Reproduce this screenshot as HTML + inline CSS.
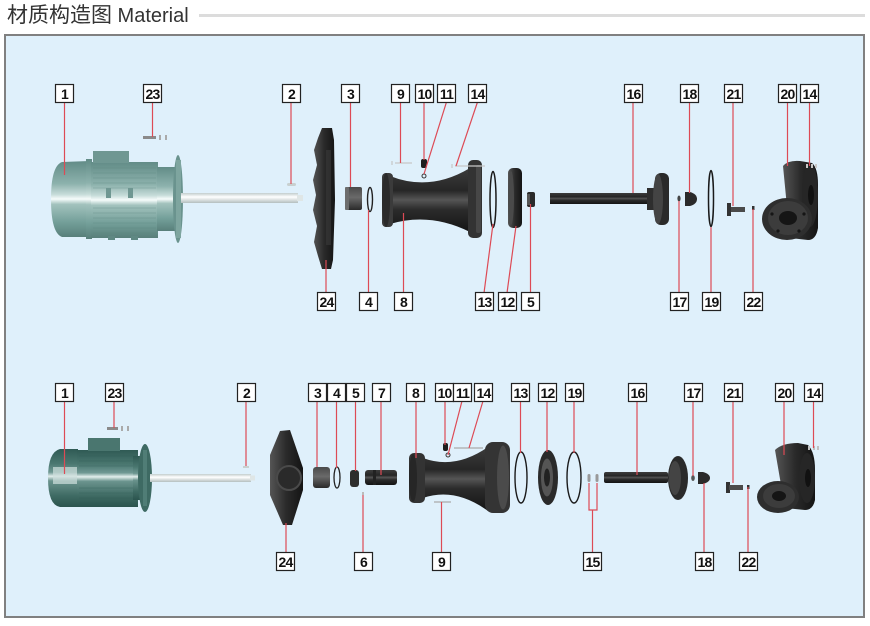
<!DOCTYPE html>
<html><head><meta charset="utf-8"><style>
html,body{margin:0;padding:0;background:#fff;}
svg{display:block;}
</style></head><body>
<svg width="870" height="626" viewBox="0 0 870 626" xmlns="http://www.w3.org/2000/svg">
<defs>
<linearGradient id="tealA" x1="0" y1="0" x2="0" y2="1">
<stop offset="0" stop-color="#628c87"/><stop offset="0.3" stop-color="#8db2ad"/><stop offset="0.44" stop-color="#c6dcd9"/><stop offset="0.5" stop-color="#f6fcfb"/><stop offset="0.57" stop-color="#a2c2bd"/><stop offset="0.8" stop-color="#74a09a"/><stop offset="1" stop-color="#587f7a"/>
</linearGradient>
<linearGradient id="tealB" x1="0" y1="0" x2="0" y2="1">
<stop offset="0" stop-color="#2f5a54"/><stop offset="0.25" stop-color="#4a7770"/><stop offset="0.4" stop-color="#6f9893"/><stop offset="0.47" stop-color="#e2eeec"/><stop offset="0.55" stop-color="#6a938d"/><stop offset="0.8" stop-color="#3f6b64"/><stop offset="1" stop-color="#2b544e"/>
</linearGradient>
<linearGradient id="shaft" x1="0" y1="0" x2="0" y2="1">
<stop offset="0" stop-color="#c3cdcd"/><stop offset="0.4" stop-color="#ffffff"/><stop offset="1" stop-color="#b4bfbf"/>
</linearGradient>
<linearGradient id="dk" x1="0" y1="0" x2="0" y2="1">
<stop offset="0" stop-color="#3c3c3c"/><stop offset="0.35" stop-color="#262626"/><stop offset="0.5" stop-color="#555"/><stop offset="0.65" stop-color="#2b2b2b"/><stop offset="1" stop-color="#141414"/>
</linearGradient>
<linearGradient id="dkh" x1="0" y1="0" x2="1" y2="0">
<stop offset="0" stop-color="#555"/><stop offset="0.5" stop-color="#2a2a2a"/><stop offset="1" stop-color="#141414"/>
</linearGradient>
<linearGradient id="gy" x1="0" y1="0" x2="0" y2="1">
<stop offset="0" stop-color="#4a4a4a"/><stop offset="0.45" stop-color="#6a6a6a"/><stop offset="1" stop-color="#2a2a2a"/>
</linearGradient>
</defs>
<rect width="870" height="626" fill="#fff"/>
<text x="7" y="22" fill="#333" font-family="'Liberation Sans','Noto Sans CJK SC',sans-serif"><tspan font-size="21">材质构造图</tspan><tspan font-size="20"> Material</tspan></text>
<rect x="199" y="14" width="666" height="3" fill="#dcdcdc"/>
<rect x="5" y="35" width="859" height="582" fill="#dff0fb" stroke="#808080" stroke-width="2"/>

<!-- ================= TOP ROW ================= -->
<!-- motor 1 -->
<path d="M90,161 L62,162 Q51,166 51,199 Q51,233 62,237 L90,237 Z" fill="url(#tealA)"/>
<rect x="86" y="159" width="6" height="80" fill="url(#tealA)"/>
<rect x="91" y="162" width="67" height="76" fill="url(#tealA)"/>
<g stroke="#5a837e" stroke-width="0.6" opacity="0.6">
<line x1="93" y1="168" x2="156" y2="168"/><line x1="93" y1="173" x2="156" y2="173"/><line x1="93" y1="178" x2="156" y2="178"/><line x1="93" y1="183" x2="156" y2="183"/><line x1="93" y1="188" x2="156" y2="188"/><line x1="93" y1="208" x2="156" y2="208"/><line x1="93" y1="213" x2="156" y2="213"/><line x1="93" y1="218" x2="156" y2="218"/><line x1="93" y1="223" x2="156" y2="223"/><line x1="93" y1="228" x2="156" y2="228"/><line x1="93" y1="233" x2="156" y2="233"/>
</g>
<rect x="93" y="151" width="36" height="12" fill="#6f9792"/>
<rect x="106" y="188" width="5" height="10" fill="#6f9792"/><rect x="128" y="188" width="5" height="10" fill="#6f9792"/>
<rect x="108" y="236" width="7" height="4" fill="#5f8883"/><rect x="131" y="236" width="7" height="4" fill="#5f8883"/>
<rect x="157" y="167" width="18" height="64" fill="url(#tealA)"/>
<ellipse cx="178" cy="199" rx="5" ry="44" fill="#6a938e"/>
<rect x="176" y="160" width="5" height="78" fill="#7ea59f"/>
<rect x="181" y="193" width="117" height="10" fill="url(#shaft)"/>
<rect x="297" y="195" width="6" height="6" fill="#dfe6e6"/>
<!-- 23 screw -->
<rect x="143" y="136" width="13" height="3" fill="#8a8a8a"/><rect x="159" y="135" width="2" height="5" fill="#aaa"/><rect x="165" y="135" width="2" height="5" fill="#aaa"/>
<!-- 2 key -->
<rect x="287" y="183" width="9" height="3" rx="1.5" fill="#c8d0d0"/>
<!-- 24 bracket -->
<polygon points="322,128 332,128 334,140 335,200 333,260 331,269 322,269 318,256 314,242 317,226 313,210 316,195 313,180 317,165 314,150 318,138" fill="url(#dkh)"/>
<rect x="326" y="150" width="5" height="95" fill="#3a3a3a" opacity="0.6"/>
<!-- 3 -->
<rect x="345" y="187" width="17" height="23" rx="2" fill="url(#gy)"/>
<rect x="345" y="187" width="4" height="23" rx="1" fill="#6d6d6d"/>
<!-- 4 -->
<ellipse cx="370" cy="199.5" rx="2.5" ry="12" fill="none" stroke="#222" stroke-width="1.4"/>
<!-- 8 spool -->
<path d="M390,176 Q430,192 470,168 L470,232 Q430,212 390,224 Z" fill="url(#dk)"/>
<rect x="382" y="173" width="11" height="54" rx="4" fill="#3b3b3b"/>
<ellipse cx="386" cy="200" rx="4" ry="27" fill="#2a2a2a"/>
<rect x="468" y="160" width="14" height="78" rx="5" fill="#333"/>
<rect x="476" y="165" width="5" height="68" rx="2" fill="#474747"/>
<!-- 9 / 10 / 11 / 14 top -->
<g stroke="#c6c6c6" stroke-width="1.2" fill="none"><line x1="395" y1="163" x2="412" y2="163"/><line x1="455" y1="166" x2="485" y2="166"/><line x1="392" y1="161" x2="392" y2="165"/><line x1="452" y1="164" x2="452" y2="168"/></g>
<rect x="421" y="159" width="6" height="9" rx="2" fill="#1e1e1e"/>
<circle cx="424" cy="176" r="2" fill="none" stroke="#333" stroke-width="1"/>
<!-- 13 -->
<ellipse cx="493" cy="199.5" rx="3" ry="28" fill="none" stroke="#1a1a1a" stroke-width="1.5"/>
<!-- 12 -->
<rect x="508" y="168" width="14" height="60" rx="5" fill="url(#dkh)"/>
<ellipse cx="511" cy="198" rx="3" ry="27" fill="#4a4a4a"/>
<!-- 5 -->
<rect x="527" y="192" width="8" height="15" rx="2" fill="#2a2a2a"/><rect x="527" y="194" width="3" height="11" fill="#555"/>
<!-- 16 -->
<rect x="550" y="193" width="105" height="11" fill="url(#dk)"/>
<rect x="647" y="188" width="10" height="22" fill="#2e2e2e"/>
<rect x="655" y="173" width="14" height="52" rx="6" fill="#2a2a2a"/>
<ellipse cx="658" cy="199" rx="5" ry="25" fill="#444"/>
<!-- 17 / 18 -->
<ellipse cx="679" cy="198.5" rx="1.6" ry="3" fill="#444"/>
<path d="M685,192 L690,192 Q697,194 697,199 Q697,204 690,206 L685,206 Z" fill="#2a2a2a"/>
<!-- 19 -->
<ellipse cx="711" cy="198.5" rx="2.5" ry="28" fill="none" stroke="#1a1a1a" stroke-width="1.5"/>
<!-- 21 / 22 -->
<rect x="727" y="203" width="4" height="13" fill="#333"/><rect x="731" y="207" width="14" height="5" fill="#4a4a4a"/>
<rect x="752" y="206" width="2.5" height="4" fill="#333"/>
<!-- 20 volute -->
<path d="M783,166 Q788,160 800,161 L812,163 Q818,168 818,185 L818,228 Q816,240 808,240 L790,238 Z" fill="url(#dkh)"/>
<ellipse cx="810" cy="195" rx="8" ry="32" fill="#262626"/>
<ellipse cx="811" cy="195" rx="3" ry="10" fill="#111"/>
<ellipse cx="787" cy="219" rx="25" ry="21" fill="#2e2e2e"/>
<ellipse cx="788" cy="218" rx="20" ry="17" fill="#3c3c3c"/>
<ellipse cx="788" cy="218" rx="9" ry="7" fill="#151515"/>
<g fill="#151515"><circle cx="772" cy="214" r="1.6"/><circle cx="804" cy="214" r="1.6"/><circle cx="778" cy="231" r="1.6"/><circle cx="799" cy="231" r="1.6"/></g>
<g fill="#c8c8c8"><rect x="806" y="164" width="2" height="4"/><rect x="811" y="164" width="2" height="4"/><rect x="815" y="164" width="2" height="4"/></g>

<!-- ================= BOTTOM ROW ================= -->
<path d="M78,449 L60,449 Q48,452 48,478 Q48,505 60,507 L78,507 Z" fill="url(#tealB)"/>
<rect x="53" y="467" width="24" height="17" fill="#cfe0dd" opacity="0.7"/>
<rect x="77" y="450" width="61" height="57" fill="url(#tealB)"/>
<g stroke="#2f5a54" stroke-width="0.6" opacity="0.6">
<line x1="79" y1="456" x2="136" y2="456"/><line x1="79" y1="461" x2="136" y2="461"/><line x1="79" y1="466" x2="136" y2="466"/><line x1="79" y1="488" x2="136" y2="488"/><line x1="79" y1="493" x2="136" y2="493"/><line x1="79" y1="498" x2="136" y2="498"/><line x1="79" y1="503" x2="136" y2="503"/>
</g>
<rect x="88" y="438" width="32" height="13" fill="#4a766f"/>
<rect x="133" y="456" width="8" height="44" fill="url(#tealB)"/>
<ellipse cx="145" cy="478" rx="7" ry="34" fill="#3e6a63"/>
<rect x="143" y="450" width="4" height="56" fill="#507d76"/>
<rect x="150" y="474" width="101" height="8" fill="url(#shaft)"/>
<rect x="250" y="475.5" width="5" height="5" fill="#dfe6e6"/>
<!-- 23 -->
<rect x="107" y="427" width="11" height="3" fill="#8a8a8a"/><rect x="121" y="426" width="2" height="5" fill="#aaa"/><rect x="127" y="426" width="2" height="5" fill="#aaa"/>
<!-- 2 -->
<rect x="243" y="466" width="6" height="2" fill="#c8d0d0"/>
<!-- 24 -->
<polygon points="280,431 290,430 303,468 303,490 292,525 283,525 270,495 270,455" fill="url(#dkh)"/>
<circle cx="289" cy="478" r="12" fill="#2a2a2a" stroke="#4a4a4a" stroke-width="2"/>
<!-- 3 4 5 7 6 -->
<rect x="313" y="467" width="17" height="21" rx="3" fill="url(#gy)"/>
<ellipse cx="337" cy="477.5" rx="3" ry="10.5" fill="none" stroke="#222" stroke-width="1.3"/>
<rect x="350" y="470" width="9" height="17" rx="3" fill="#2d2d2d"/>
<rect x="365" y="470" width="32" height="15" rx="3" fill="url(#dk)"/>
<rect x="373" y="470" width="3" height="15" fill="#222"/>
<rect x="362" y="492" width="2" height="3" fill="#bbb"/>
<!-- 8 spool -->
<path d="M423,458 Q455,470 488,447 L488,511 Q455,487 423,498 Z" fill="url(#dk)"/>
<rect x="409" y="453" width="16" height="50" rx="5" fill="#333"/>
<ellipse cx="413" cy="478" rx="4" ry="24" fill="#262626"/>
<rect x="485" y="442" width="25" height="71" rx="8" fill="#343434"/>
<ellipse cx="503" cy="477.5" rx="6" ry="32" fill="#4b4b4b"/>
<!-- 10 11 14 9 -->
<rect x="443" y="443" width="5" height="8" rx="2" fill="#1e1e1e"/>
<circle cx="448" cy="455" r="2" fill="none" stroke="#333" stroke-width="1"/>
<g stroke="#aaa" stroke-width="1.3" fill="none"><line x1="454" y1="448" x2="483" y2="448"/><line x1="434" y1="502" x2="451" y2="502"/></g>
<!-- 13 12 19 -->
<ellipse cx="521" cy="477.5" rx="6" ry="25.5" fill="none" stroke="#1a1a1a" stroke-width="1.4"/>
<ellipse cx="548" cy="477.5" rx="10" ry="27.5" fill="#2a2a2a"/>
<ellipse cx="547" cy="477.5" rx="6" ry="19" fill="#555"/>
<ellipse cx="547" cy="477.5" rx="3" ry="9" fill="#222"/>
<ellipse cx="574" cy="477.5" rx="7" ry="25.5" fill="none" stroke="#1a1a1a" stroke-width="1.4"/>
<!-- 15 -->
<rect x="587.5" y="474" width="3" height="8" rx="1.5" fill="#999"/><rect x="595.5" y="474" width="3" height="8" rx="1.5" fill="#999"/>
<!-- 16 -->
<rect x="604" y="472" width="64" height="11" rx="2" fill="url(#dk)"/>
<ellipse cx="678" cy="478" rx="10" ry="22" fill="#2a2a2a"/>
<ellipse cx="675" cy="478" rx="6" ry="17" fill="#444"/>
<!-- 17 18 21 22 -->
<ellipse cx="693" cy="478" rx="1.8" ry="3" fill="#555"/>
<path d="M698,472 L703,472 Q710,474 710,478 Q710,482 703,484 L698,484 Z" fill="#2a2a2a"/>
<rect x="726" y="482" width="4" height="11" fill="#333"/><rect x="729" y="485" width="14" height="5" fill="#4a4a4a"/>
<rect x="747" y="485" width="2.5" height="4" fill="#333"/>
<!-- 20 -->
<path d="M775,450 Q782,443 798,443 L808,445 Q815,452 815,470 L815,500 Q813,510 805,510 L785,508 Z" fill="url(#dkh)"/>
<ellipse cx="807" cy="478" rx="8" ry="25" fill="#262626"/>
<ellipse cx="808" cy="478" rx="3" ry="9" fill="#111"/>
<ellipse cx="778" cy="497" rx="21" ry="16" fill="#2e2e2e"/>
<ellipse cx="779" cy="496" rx="16" ry="12" fill="#3c3c3c"/>
<ellipse cx="779" cy="496" rx="7" ry="5" fill="#151515"/>
<g fill="#c0c0c0"><rect x="808" y="446" width="2" height="4"/><rect x="813" y="446" width="2" height="4"/><rect x="817" y="446" width="2" height="4"/></g>

<!-- ================= LEADER LINES ================= -->
<g stroke="#dd4a55" stroke-width="1.2" fill="none">
<line x1="64.5" y1="102" x2="64.5" y2="175"/><line x1="152.5" y1="102" x2="152.5" y2="137"/><line x1="291" y1="102" x2="291" y2="184"/><line x1="350.5" y1="102" x2="350.5" y2="187"/><line x1="400.5" y1="102" x2="400.5" y2="163"/><line x1="424" y1="102" x2="424" y2="160"/><line x1="446.5" y1="102" x2="424" y2="174"/><line x1="477.5" y1="102" x2="456" y2="166"/><line x1="633" y1="102" x2="633" y2="193"/><line x1="689.5" y1="102" x2="689.5" y2="193"/><line x1="733" y1="102" x2="733" y2="206"/><line x1="787.5" y1="102" x2="787.5" y2="166"/><line x1="809.5" y1="102" x2="809.5" y2="166"/>
<line x1="326" y1="293" x2="326" y2="260"/><line x1="368.5" y1="293" x2="368.5" y2="210"/><line x1="403.5" y1="293" x2="403.5" y2="213"/><line x1="484" y1="293" x2="493" y2="224"/><line x1="507" y1="293" x2="516" y2="226"/><line x1="530.5" y1="293" x2="530.5" y2="204"/><line x1="679" y1="293" x2="679" y2="201"/><line x1="711" y1="293" x2="711" y2="227"/><line x1="753" y1="293" x2="753" y2="209"/>
<line x1="64.5" y1="401" x2="64.5" y2="474"/><line x1="114" y1="401" x2="114" y2="428"/><line x1="246" y1="401" x2="246" y2="466"/><line x1="317" y1="401" x2="317" y2="467"/><line x1="336.5" y1="401" x2="336.5" y2="468"/><line x1="355.5" y1="401" x2="355.5" y2="471"/><line x1="381" y1="401" x2="381" y2="475"/><line x1="416" y1="401" x2="416" y2="458"/><line x1="445" y1="401" x2="445" y2="445"/><line x1="462" y1="401" x2="448" y2="455"/><line x1="483" y1="401" x2="469" y2="448"/><line x1="520.5" y1="401" x2="520.5" y2="453"/><line x1="547" y1="401" x2="547" y2="452"/><line x1="574" y1="401" x2="574" y2="453"/><line x1="637" y1="401" x2="637" y2="475"/><line x1="693" y1="401" x2="693" y2="476"/><line x1="733" y1="401" x2="733" y2="483"/><line x1="784" y1="401" x2="784" y2="455"/><line x1="813.5" y1="401" x2="813.5" y2="448"/>
<line x1="286" y1="552" x2="286" y2="523"/><line x1="363" y1="552" x2="363" y2="495"/><line x1="441.5" y1="552" x2="441.5" y2="502"/><line x1="592.5" y1="552" x2="592.5" y2="510"/><polyline points="589,483 589,510 597,510 597,483"/><line x1="704" y1="552" x2="704" y2="483"/><line x1="748" y1="552" x2="748" y2="487"/>
</g>

<!-- ================= LABELS ================= -->
<g fill="#fff" stroke="#222" stroke-width="1.2">
<rect x="55.5" y="84.5" width="18" height="18"/><rect x="143.5" y="84.5" width="18" height="18"/><rect x="282.5" y="84.5" width="18" height="18"/><rect x="341.5" y="84.5" width="18" height="18"/><rect x="391.5" y="84.5" width="18" height="18"/><rect x="415.5" y="84.5" width="18" height="18"/><rect x="437.5" y="84.5" width="18" height="18"/><rect x="468.5" y="84.5" width="18" height="18"/><rect x="624.5" y="84.5" width="18" height="18"/><rect x="680.5" y="84.5" width="18" height="18"/><rect x="724.5" y="84.5" width="18" height="18"/><rect x="778.5" y="84.5" width="18" height="18"/><rect x="800.5" y="84.5" width="18" height="18"/>
<rect x="317.5" y="292.5" width="18" height="18"/><rect x="359.5" y="292.5" width="18" height="18"/><rect x="394.5" y="292.5" width="18" height="18"/><rect x="475.5" y="292.5" width="18" height="18"/><rect x="498.5" y="292.5" width="18" height="18"/><rect x="521.5" y="292.5" width="18" height="18"/><rect x="670.5" y="292.5" width="18" height="18"/><rect x="702.5" y="292.5" width="18" height="18"/><rect x="744.5" y="292.5" width="18" height="18"/>
<rect x="55.5" y="383.5" width="18" height="18"/><rect x="105.5" y="383.5" width="18" height="18"/><rect x="237.5" y="383.5" width="18" height="18"/><rect x="308.5" y="383.5" width="18" height="18"/><rect x="327.5" y="383.5" width="18" height="18"/><rect x="346.5" y="383.5" width="18" height="18"/><rect x="372.5" y="383.5" width="18" height="18"/><rect x="406.5" y="383.5" width="18" height="18"/><rect x="435.5" y="383.5" width="18" height="18"/><rect x="453.5" y="383.5" width="18" height="18"/><rect x="474.5" y="383.5" width="18" height="18"/><rect x="511.5" y="383.5" width="18" height="18"/><rect x="538.5" y="383.5" width="18" height="18"/><rect x="565.5" y="383.5" width="18" height="18"/><rect x="628.5" y="383.5" width="18" height="18"/><rect x="684.5" y="383.5" width="18" height="18"/><rect x="724.5" y="383.5" width="18" height="18"/><rect x="775.5" y="383.5" width="18" height="18"/><rect x="804.5" y="383.5" width="18" height="18"/>
<rect x="276.5" y="552.5" width="18" height="18"/><rect x="354.5" y="552.5" width="18" height="18"/><rect x="432.5" y="552.5" width="18" height="18"/><rect x="583.5" y="552.5" width="18" height="18"/><rect x="695.5" y="552.5" width="18" height="18"/><rect x="739.5" y="552.5" width="18" height="18"/>
</g>
<g fill="#111" font-family="'Liberation Sans',sans-serif" font-weight="bold" font-size="14" text-anchor="middle" letter-spacing="-0.8">
<text x="64.5" y="99">1</text><text x="152.5" y="99">23</text><text x="291.5" y="99">2</text><text x="350.5" y="99">3</text><text x="400.5" y="99">9</text><text x="424.5" y="99">10</text><text x="446.5" y="99">11</text><text x="477.5" y="99">14</text><text x="633.5" y="99">16</text><text x="689.5" y="99">18</text><text x="733.5" y="99">21</text><text x="787.5" y="99">20</text><text x="809.5" y="99">14</text>
<text x="326.5" y="307">24</text><text x="368.5" y="307">4</text><text x="403.5" y="307">8</text><text x="484.5" y="307">13</text><text x="507.5" y="307">12</text><text x="530.5" y="307">5</text><text x="679.5" y="307">17</text><text x="711.5" y="307">19</text><text x="753.5" y="307">22</text>
<text x="64.5" y="398">1</text><text x="114.5" y="398">23</text><text x="246.5" y="398">2</text><text x="317.5" y="398">3</text><text x="336.5" y="398">4</text><text x="355.5" y="398">5</text><text x="381.5" y="398">7</text><text x="415.5" y="398">8</text><text x="444.5" y="398">10</text><text x="462.5" y="398">11</text><text x="483.5" y="398">14</text><text x="520.5" y="398">13</text><text x="547.5" y="398">12</text><text x="574.5" y="398">19</text><text x="637.5" y="398">16</text><text x="693.5" y="398">17</text><text x="733.5" y="398">21</text><text x="784.5" y="398">20</text><text x="813.5" y="398">14</text>
<text x="285.5" y="567">24</text><text x="363.5" y="567">6</text><text x="441.5" y="567">9</text><text x="592.5" y="567">15</text><text x="704.5" y="567">18</text><text x="748.5" y="567">22</text>
</g>
</svg>
</body></html>
